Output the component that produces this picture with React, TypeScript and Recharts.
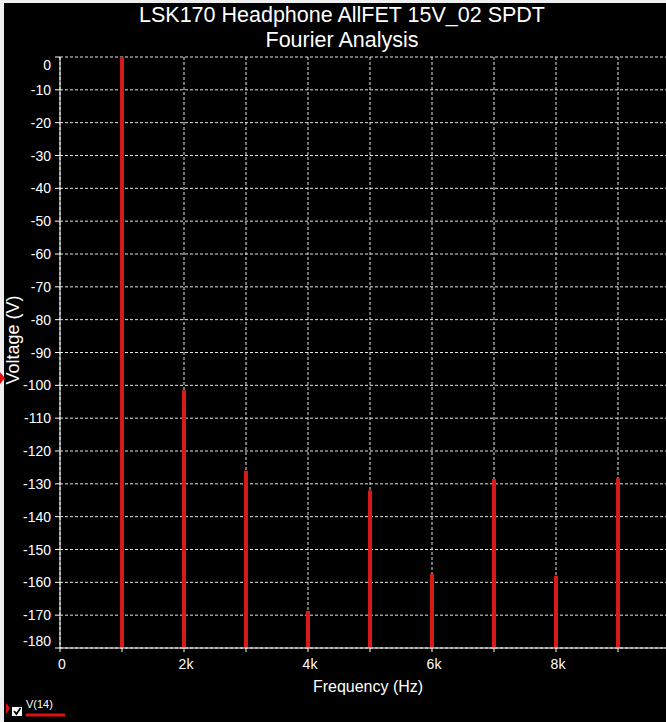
import React from 'react'
import { ComposedChart, Bar, XAxis, YAxis, CartesianGrid } from 'recharts'

const harmonicFreqs = [1000, 2000, 3000, 4000, 5000, 6000, 7000, 8000, 9000]
const harmonicLevels = [0, -101.5, -126, -168.7, -132, -157.5, -128.5, -158, -128.3]
const xTicks = [0, 1000, 2000, 3000, 4000, 5000, 6000, 7000, 8000, 9000, 10000]
const yTicks = [0, -10, -20, -30, -40, -50, -60, -70, -80, -90, -100, -110, -120, -130, -140, -150, -160, -170, -180]
const titleLines = ['LSK170 Headphone AllFET 15V_02 SPDT', 'Fourier Analysis']

const FLOOR = -180
const FONT = '"Liberation Sans", Arial, sans-serif'

const chartData = harmonicFreqs.map((f, i) => ({ freq: f, level: [FLOOR, harmonicLevels[i]] }))

function YTick(props: any) {
  const { x, y, payload } = props
  let dy = 5
  if (payload.value === 0) dy = 13
  if (payload.value === FLOOR) dy = -2
  return (
    <text x={x - 2} y={y + dy} textAnchor="end" fill="#fff" fontSize={14} fontFamily={FONT}>
      {payload.value}
    </text>
  )
}

function XTick(props: any) {
  const { x, y, payload } = props
  const v = payload.value
  const label = v === 0 ? '0' : v % 2000 === 0 ? `${v / 1000}k` : ''
  return (
    <text x={x + 2} y={y + 15} textAnchor="middle" fill="#fff" fontSize={14} fontFamily={FONT}>
      {label}
    </text>
  )
}

export default function App() {
  return (
    <div
      style={{
        position: 'absolute',
        top: 0,
        left: 0,
        width: 666,
        height: 722,
        overflow: 'hidden',
        background: '#000',
        fontFamily: FONT,
      }}
    >
      <div style={{ position: 'absolute', top: 0, left: 0, width: 666, height: 3, background: '#eee' }} />
      <div style={{ position: 'absolute', top: 0, left: 0, width: 4, height: 722, background: '#eee' }} />

      <div style={{ position: 'absolute', top: 3, left: 0, width: 684, textAlign: 'center', color: '#fff', fontSize: 21.5, lineHeight: '25px' }}>
        {titleLines.map((t) => (
          <div key={t}>{t}</div>
        ))}
      </div>

      <div style={{ position: 'absolute', top: 0, left: 0 }}>
        <ComposedChart
          width={700}
          height={722}
          data={chartData}
          margin={{ top: 57, right: 20, bottom: 34, left: 0 }}
        >
          <CartesianGrid stroke="#e6e6e6" strokeDasharray="3 2" strokeWidth={1} />
          <XAxis
            dataKey="freq"
            type="number"
            domain={[0, 10000]}
            ticks={xTicks}
            interval={0}
            height={40}
            stroke="#fff"
            tickSize={4}
            tickLine={{ stroke: '#fff' }}
            tick={<XTick />}
          />
          <YAxis
            type="number"
            domain={[FLOOR, 0]}
            ticks={yTicks}
            interval={0}
            width={60}
            stroke="#fff"
            tickSize={5}
            tickLine={{ stroke: '#fff' }}
            tick={<YTick />}
          />
          <Bar dataKey="level" fill="#d61a1a" barSize={4} isAnimationActive={false} />
        </ComposedChart>
      </div>

      <div
        style={{
          position: 'absolute',
          left: 13,
          top: 340,
          transform: 'translate(-50%, -50%) rotate(-90deg)',
          color: '#fff',
          fontSize: 18,
          whiteSpace: 'nowrap',
        }}
      >
        Voltage (V)
      </div>

      <div
        style={{
          position: 'absolute',
          left: 368,
          top: 687,
          transform: 'translate(-50%, -50%)',
          color: '#fff',
          fontSize: 16,
          whiteSpace: 'nowrap',
        }}
      >
        Frequency (Hz)
      </div>

      <svg style={{ position: 'absolute', left: 0, top: 372 }} width={8} height={12}>
        <polygon points="0,0 5,6 0,12" fill="#e01010" />
      </svg>

      <svg style={{ position: 'absolute', left: 0, top: 698 }} width={80} height={24}>
        <polygon points="6,5 10,10 6,16" fill="#e01010" />
        <rect x={12} y={9} width={10} height={9} fill="#fff" />
        <polyline points="14,13 16.5,16 20.5,10" fill="none" stroke="#000" strokeWidth={1.8} />
        <text x={26} y={10} fill="#fff" fontSize={11} fontFamily={FONT}>
          V(14)
        </text>
        <line x1={26} y1={17} x2={65} y2={17} stroke="#e01010" strokeWidth={3} />
      </svg>
    </div>
  )
}
